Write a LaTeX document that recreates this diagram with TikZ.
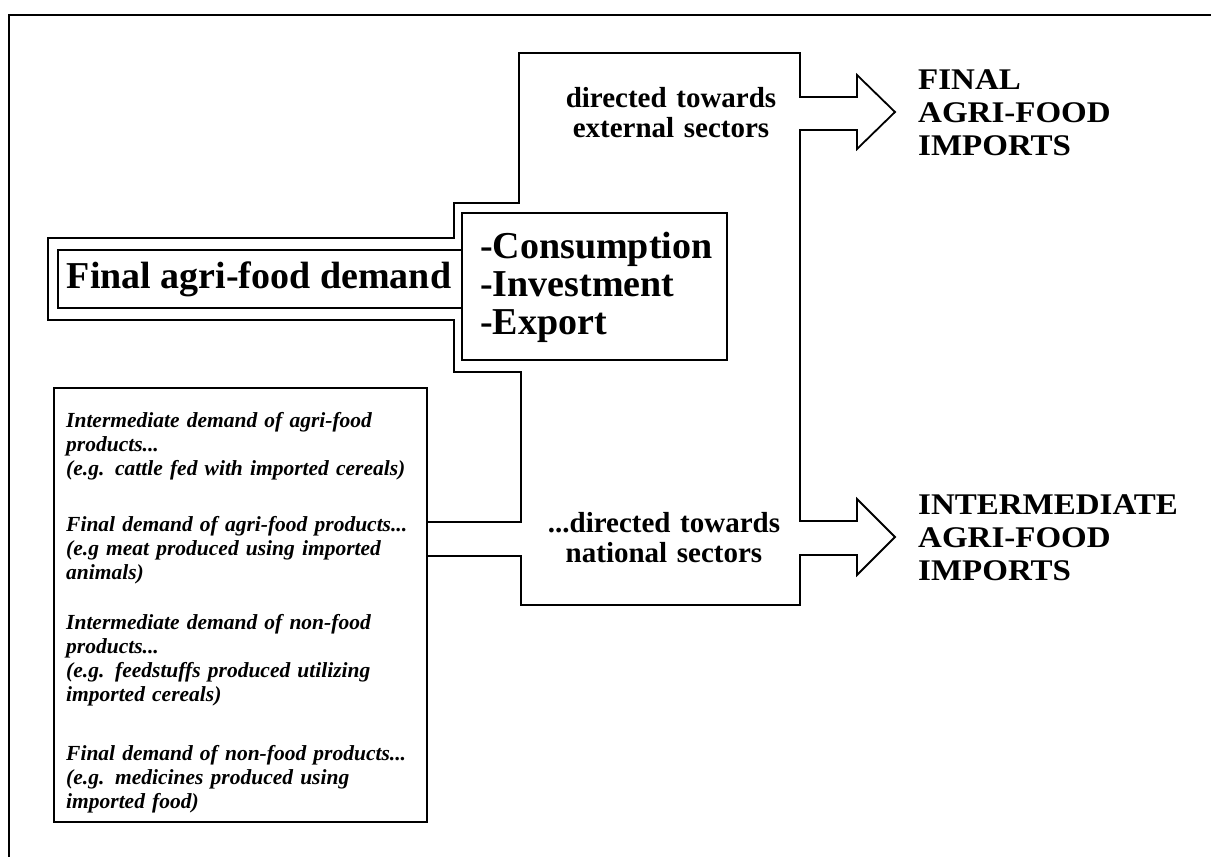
\documentclass[tikz,border=0pt]{standalone}
\usepackage{fontspec}
\setmainfont{Liberation Serif}
\newfontfamily\widefont[FakeStretch=1.1]{Liberation Serif}
\begin{document}
\begin{tikzpicture}[x=1pt,y=-1pt,
  outline/.style={line width=1.8pt},
  boxline/.style={draw,line width=1.8pt,rectangle,inner sep=0pt},
  bigtxt/.style={inner sep=0pt,font=\fontsize{38}{38}\selectfont\bfseries},
  labtxt/.style={inner sep=0pt,anchor=base west,text width=300pt,align=left,font=\widefont\fontsize{30}{33}\selectfont\bfseries},
  dirtxt/.style={inner sep=0pt,anchor=base,text width=300pt,align=center,font=\fontsize{29}{30}\selectfont\bfseries},
  ittxt/.style={inner sep=0pt,anchor=base west,text width=360pt,align=left,font=\fontsize{21.5}{24}\selectfont\bfseries\itshape}]
\useasboundingbox (0,0) rectangle (1211,857);
% outer frame
\draw[outline] (9,857) -- (9,15) -- (1211,15);

% boxes
\node[boxline,minimum width=404pt,minimum height=58pt] (fad) at (260,279) {};
\node[boxline,fill=white,minimum width=265pt,minimum height=147pt] (cons) at (594.5,286.5) {};
\node[boxline,minimum width=373pt,minimum height=434pt] (inter) at (240.5,605) {};

% big outline with arrows
\draw[outline] (inter.east |- 0,522) -- (521,522) -- (521,372) -- (454,372) -- (454,320)
  -- (48,320) -- (48,238) -- (454,238) -- (454,203) -- (519,203) -- (519,53)
  -- (800,53) -- (800,97) -- (857,97) -- (857,75) -- (895,112) -- (857,149) -- (857,130)
  -- (800,130) -- (800,521) -- (857,521) -- (857,499) -- (895,537) -- (857,575) -- (857,555)
  -- (800,555) -- (800,605) -- (521,605) -- (521,556) -- (inter.east |- 0,556);

% texts
\node[bigtxt,anchor=base] (fadt) at (259,288) {Final agri-food demand};
\node[bigtxt,anchor=base west,text width=250pt,align=left] (const) at (480,258)
  {-Consumption\\-Investment\\-Export};
\node[dirtxt] (ext) at (671,107) {directed towards\\external sectors};
\node[dirtxt] (nat) at (664,532) {...directed towards\\national sectors};
\node[labtxt] (fin) at (918,89) {FINAL\\AGRI-FOOD\\IMPORTS};
\node[labtxt] (intm) at (918,514) {INTERMEDIATE\\AGRI-FOOD\\IMPORTS};

\node[ittxt] (g1) at (66,427.5) {Intermediate demand of agri-food\\products...\\(e.g. cattle fed with imported cereals)};
\node[ittxt] (g2) at (66,531.5) {Final demand of agri-food products...\\(e.g meat produced using imported\\animals)};
\node[ittxt] (g3) at (66,629.5) {Intermediate demand of non-food\\products...\\(e.g. feedstuffs produced utilizing\\imported cereals)};
\node[ittxt] (g4) at (66,760.5) {Final demand of non-food products...\\(e.g. medicines produced using\\imported food)};
\end{tikzpicture}
\end{document}
